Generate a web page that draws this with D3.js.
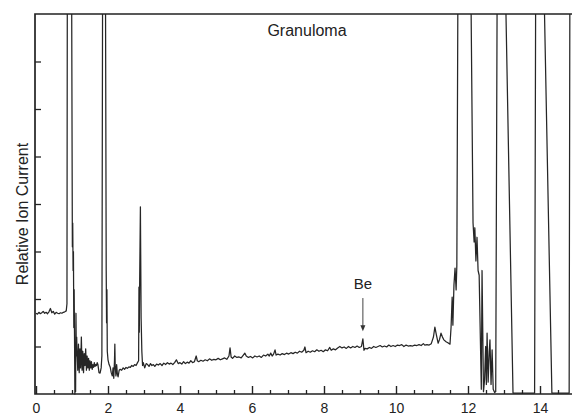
<!DOCTYPE html>
<html>
<head>
<meta charset="utf-8">
<script src="https://cdn.jsdelivr.net/npm/d3@7"></script>
<style>
  html, body { margin: 0; padding: 0; background: #fff; }
  svg { display: block; font-family: "Liberation Sans", Arial, Helvetica, sans-serif; }
</style>
</head>
<body>
<div id="chart"></div>
<script>
// retention time (min) and relative ion current (axis divisions)
const retentionTime = [
  0.00, 0.04, 0.08, 0.12, 0.16, 0.20, 0.24, 0.28, 0.32, 0.36, 0.40, 0.44, 0.48, 0.52, 0.56, 0.60, 0.64, 0.68, 0.72, 0.76, 0.80, 0.84,
  0.86, 0.87, 0.99, 1.01, 1.02, 1.03, 1.04, 1.05, 1.06, 1.07, 1.08, 1.09, 1.10, 1.11, 1.12, 1.13,
  1.14, 1.16, 1.18, 1.20, 1.22, 1.24, 1.26, 1.28, 1.30, 1.32, 1.34, 1.36, 1.38, 1.40, 1.42, 1.44, 1.46, 1.48, 1.50,
  1.52, 1.54, 1.56, 1.58, 1.60, 1.62, 1.64, 1.66, 1.68, 1.70, 1.72, 1.75, 1.78, 1.81,
  1.83, 1.85, 1.93, 1.95, 1.96, 1.97, 1.98, 2.00, 2.03, 2.06, 2.09, 2.12, 2.14, 2.16, 2.18, 2.19, 2.20, 2.22, 2.24, 2.26, 2.28,
  2.31, 2.34, 2.38, 2.42, 2.46, 2.50, 2.54, 2.58, 2.62, 2.66, 2.70, 2.74, 2.78, 2.82, 2.85,
  2.86, 2.87, 2.88, 2.90, 2.92, 2.94, 2.96, 2.98,
  3.02, 3.06, 3.10, 3.14, 3.18, 3.22, 3.26, 3.30, 3.35, 3.40, 3.45, 3.50, 3.55, 3.60, 3.65, 3.70, 3.75, 3.80, 3.85, 3.90, 3.95,
  4.00, 4.05, 4.10, 4.15, 4.20, 4.25, 4.30, 4.35, 4.40, 4.45, 4.48, 4.52, 4.58, 4.64, 4.70, 4.76, 4.82, 4.88, 4.94,
  5.00, 5.06, 5.12, 5.18, 5.24, 5.30, 5.36, 5.39, 5.42, 5.46, 5.52, 5.58, 5.64, 5.70, 5.76, 5.80, 5.84, 5.90, 5.96,
  6.02, 6.08, 6.14, 6.20, 6.26, 6.32, 6.38, 6.44, 6.48, 6.52, 6.56, 6.60, 6.64, 6.67, 6.72, 6.78, 6.84, 6.90, 6.96,
  7.02, 7.08, 7.14, 7.20, 7.26, 7.32, 7.38, 7.44, 7.47, 7.50, 7.56, 7.62, 7.68, 7.74, 7.80, 7.86, 7.92, 7.98,
  8.04, 8.10, 8.16, 8.20, 8.26, 8.32, 8.38, 8.44, 8.50, 8.56, 8.62, 8.68, 8.74, 8.80, 8.86, 8.92, 8.98,
  9.04, 9.08, 9.11, 9.14, 9.20, 9.26, 9.32, 9.38, 9.44, 9.50, 9.56, 9.62, 9.68, 9.74, 9.80, 9.86, 9.92, 9.98,
  10.04, 10.10, 10.16, 10.22, 10.28, 10.34, 10.40, 10.46, 10.52, 10.58, 10.64, 10.70, 10.76, 10.80, 10.86, 10.92, 10.98,
  11.04, 11.08, 11.12, 11.17, 11.21, 11.25, 11.29, 11.33, 11.39, 11.44, 11.50, 11.53, 11.56, 11.58, 11.61, 11.64, 11.67, 11.69, 11.72,
  12.08, 12.14, 12.17, 12.19, 12.22, 12.25, 12.28, 12.31, 12.37, 12.39, 12.43, 12.46, 12.49, 12.51, 12.53, 12.56, 12.59, 12.61, 12.64, 12.67, 12.70, 12.74,
  12.77, 12.81, 13.04, 13.25, 13.85, 13.88, 14.11, 14.33, 14.81, 14.83, 15.00
];
const ionCurrent = [
  1.70, 1.68, 1.72, 1.69, 1.71, 1.74, 1.70, 1.72, 1.69, 1.73, 1.80, 1.71, 1.74, 1.68, 1.72, 1.70, 1.69, 1.71, 1.70, 1.72, 1.73, 1.75,
  1.90, 8.60, 8.60, 3.10, 3.60, 2.60, 3.00, 1.40, 2.20, 1.20, 0.00, 1.00, 0.05, 1.70, 0.80, 1.20,
  0.90, 0.50, 1.05, 0.45, 0.95, 0.55, 1.20, 0.50, 0.90, 0.45, 0.85, 0.60, 0.95, 0.50, 0.80, 0.55, 0.75, 0.50, 0.70,
  0.55, 0.68, 0.52, 0.62, 0.56, 0.66, 0.58, 0.62, 0.60, 0.66, 0.62, 0.45, 0.44, 0.55,
  0.80, 8.60, 8.60, 2.60, 1.50, 2.20, 0.90, 0.72, 0.62, 0.57, 0.45, 0.38, 0.55, 0.33, 0.70, 1.05, 0.60, 0.38, 0.62, 0.42, 0.36,
  0.50, 0.52, 0.50, 0.55, 0.52, 0.56, 0.54, 0.57, 0.56, 0.60, 0.58, 0.62, 0.60, 0.66, 0.70,
  2.25, 1.30, 2.40, 3.94, 1.60, 0.90, 0.60, 0.66,
  0.55, 0.64, 0.62, 0.58, 0.64, 0.60, 0.62, 0.58, 0.63, 0.61, 0.64, 0.60, 0.65, 0.62, 0.66, 0.63, 0.65, 0.62, 0.66, 0.72, 0.64,
  0.66, 0.63, 0.68, 0.64, 0.67, 0.65, 0.70, 0.66, 0.68, 0.80, 0.70, 0.68, 0.71, 0.69, 0.72, 0.70, 0.74, 0.71, 0.73,
  0.72, 0.75, 0.72, 0.74, 0.76, 0.73, 0.80, 0.97, 0.78, 0.75, 0.80, 0.77, 0.78, 0.76, 0.82, 0.86, 0.80, 0.77, 0.79,
  0.76, 0.80, 0.78, 0.80, 0.77, 0.82, 0.80, 0.84, 0.80, 0.86, 0.80, 0.84, 0.93, 0.82, 0.84, 0.82, 0.85, 0.83, 0.86,
  0.84, 0.87, 0.85, 0.88, 0.86, 0.90, 0.88, 0.92, 0.99, 0.87, 0.90, 0.88, 0.91, 0.89, 0.93, 0.90, 0.92, 0.89,
  0.93, 0.91, 0.98, 0.92, 0.95, 0.93, 0.97, 1.00, 0.97, 0.99, 0.96, 1.00, 0.97, 1.00, 0.98, 1.01, 0.98,
  1.00, 1.16, 0.92, 0.96, 0.95, 0.98, 0.96, 1.00, 0.98, 1.00, 1.02, 0.99, 1.01, 0.99, 1.03, 1.00, 1.02, 1.00,
  1.03, 1.02, 1.04, 1.00, 1.03, 1.01, 1.02, 1.01, 1.03, 1.02, 1.04, 1.02, 1.06, 1.03, 1.04, 1.03, 1.06,
  1.20, 1.41, 1.25, 1.07, 1.15, 1.28, 1.20, 1.14, 1.10, 1.08, 1.05, 1.41, 2.04, 1.45, 2.30, 2.65, 2.19, 2.70, 8.60,
  8.60, 3.60, 3.20, 3.50, 2.80, 3.30, 2.60, 2.50, 0.10, 2.60, 0.05, 0.30, 1.00, 0.20, 1.28, 0.25, 0.90, 1.14, 0.20, 0.93, 0.10, 0.03,
  0.05, 8.60, 8.60, 0.02, 0.02, 8.60, 8.60, 0.02, 0.02, 8.60, 8.60
];

const majorTicks = [0, 2, 4, 6, 8, 10, 12, 14];
const minorTicks = [0.5, 1, 1.5, 2.5, 3, 3.5, 4.5, 5, 5.5, 6.5, 7, 7.5, 8.5, 9, 9.5, 10.5, 11, 11.5, 12.5, 13, 13.5, 14.5];
const yTicks = [1, 2, 3, 4, 5, 6, 7];

const chartTitle = "Granuloma";
const yLabel = "Relative Ion Current";
const markerLabel = "Be";
const markerTime = 9.08;

const W = 572, H = 418;
const frame = { left: 35, top: 14, bottom: 394 };
const ink = "#222";

const svg = d3.select("#chart").append("svg")
    .attr("width", W)
    .attr("height", H);

svg.append("rect").attr("width", W).attr("height", H).attr("fill", "#fff");

const x = d3.scaleLinear().domain([0, 15]).range([36, 576]);
const y = d3.scaleLinear().domain([0, 8]).range([frame.bottom, frame.top]);

// clip trace to the plot box
svg.append("clipPath").attr("id", "plot-clip")
    .append("rect")
    .attr("x", frame.left).attr("y", frame.top)
    .attr("width", W - frame.left).attr("height", frame.bottom - frame.top + 2);

const points = retentionTime.map((t, i) => [t, ionCurrent[i]]);

svg.append("path")
    .datum(points)
    .attr("clip-path", "url(#plot-clip)")
    .attr("fill", "none")
    .attr("stroke", "#262626")
    .attr("stroke-width", 1.25)
    .attr("stroke-linejoin", "round")
    .attr("d", d3.line().x(d => x(d[0])).y(d => y(d[1])));

// minor ticks on x (inward)
svg.append("g")
    .attr("transform", `translate(0,${frame.bottom})`)
    .call(d3.axisBottom(x).tickValues(minorTicks).tickSize(-4).tickFormat(""))
    .call(g => g.select(".domain").remove())
    .call(g => g.selectAll("line").attr("stroke", ink).attr("stroke-width", 1.3));

// major ticks + labels on x
svg.append("g")
    .attr("transform", `translate(0,${frame.bottom})`)
    .call(d3.axisBottom(x).tickValues(majorTicks).tickSize(-8).tickPadding(9).tickFormat(d3.format("d")))
    .call(g => g.select(".domain").remove())
    .call(g => g.selectAll("line").attr("stroke", ink).attr("stroke-width", 1.4))
    .call(g => g.selectAll("text")
        .attr("fill", ink)
        .style("font-size", "14px")
        .style("font-family", "\"Liberation Sans\", Arial, sans-serif"));

// y ticks (inward, no labels)
svg.append("g")
    .attr("transform", `translate(${frame.left},0)`)
    .call(d3.axisLeft(y).tickValues(yTicks).tickSize(-6).tickFormat(""))
    .call(g => g.select(".domain").remove())
    .call(g => g.selectAll("line").attr("stroke", ink).attr("stroke-width", 1.3));

// frame (left, top, bottom; right side runs off the page)
svg.append("path")
    .attr("d", `M${W + 5},${frame.top}H${frame.left}V${frame.bottom}H${W + 5}`)
    .attr("fill", "none")
    .attr("stroke", ink)
    .attr("stroke-width", 1.7);

svg.append("text")
    .attr("x", 307)
    .attr("y", 36)
    .attr("text-anchor", "middle")
    .attr("fill", ink)
    .style("font-size", "16px")
    .text(chartTitle);

svg.append("text")
    .attr("transform", `translate(28,${214}) rotate(-90)`)
    .attr("text-anchor", "middle")
    .attr("fill", ink)
    .style("font-size", "16px")
    .text(yLabel);

// Be marker with arrow
const mx = x(markerTime);
svg.append("text")
    .attr("x", mx)
    .attr("y", y(2.21))
    .attr("text-anchor", "middle")
    .attr("fill", ink)
    .style("font-size", "15px")
    .text(markerLabel);

svg.append("line")
    .attr("x1", mx).attr("x2", mx)
    .attr("y1", y(2.02)).attr("y2", y(1.42))
    .attr("stroke", "#444")
    .attr("stroke-width", 1);

svg.append("path")
    .attr("d", `M${mx - 2.5},${y(1.45)}L${mx + 2.5},${y(1.45)}L${mx},${y(1.32)}Z`)
    .attr("fill", "#333");
</script>
</body>
</html>
